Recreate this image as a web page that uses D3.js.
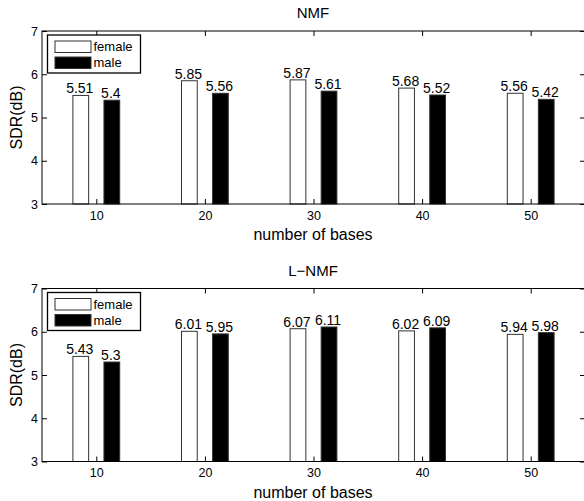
<!DOCTYPE html>
<html>
<head>
<meta charset="utf-8">
<script src="https://cdn.jsdelivr.net/npm/d3@7"></script>
<style>
  body { margin: 0; background: #fff; }
  svg { display: block; font-family: "Liberation Sans", Arial, Helvetica, sans-serif; }
  .axis text { font-size: 12.5px; fill: #000; }
  .axis line { stroke: #000; }
  .axis path { display: none; }
</style>
</head>
<body>
<div class="chart"></div>
<script>
var width = 584,
  height = 501;

// chart data
var bases = [10, 20, 30, 40, 50];
var nmfFemale = [5.51, 5.85, 5.87, 5.68, 5.56];
var nmfMale = [5.4, 5.56, 5.61, 5.52, 5.42];
var lnmfFemale = [5.43, 6.01, 6.07, 6.02, 5.94];
var lnmfMale = [5.3, 5.95, 6.11, 6.09, 5.98];
var yTicks = [3, 4, 5, 6, 7];
var seriesNames = ["female", "male"];
var panelTitles = ["NMF", "L\u2212NMF"];

var svg = d3.select(".chart").append("svg")
  .attr("width", width)
  .attr("height", height);

var x = d3.scaleLinear().domain([5, 55]).range([42, 585]);
var barOffset = 1.43,
  barWidth = x(1.45) - x(0);

drawPanel(31, 204, panelTitles[0], nmfFemale, nmfMale);
drawPanel(288.5, 461.5, panelTitles[1], lnmfFemale, lnmfMale);

function drawPanel(top, bottom, title, female, male) {
  var y = d3.scaleLinear().domain([3, 7]).range([bottom, top]);
  var g = svg.append("g");

  var series = [
    { vals: female, off: -barOffset, fill: "#fff" },
    { vals: male, off: barOffset, fill: "#000" }
  ];

  series.forEach(function(s) {
    g.selectAll(null)
      .data(s.vals)
      .enter().append("rect")
      .attr("x", function(d, i) { return x(bases[i] + s.off) - barWidth / 2; })
      .attr("y", function(d) { return y(d); })
      .attr("width", barWidth)
      .attr("height", function(d) { return y(3) - y(d); })
      .attr("fill", s.fill)
      .attr("stroke", "#333")
      .attr("stroke-width", 1);

    g.selectAll(null)
      .data(s.vals)
      .enter().append("text")
      .attr("x", function(d, i) { return x(bases[i] + s.off) - 1; })
      .attr("y", function(d) { return y(d) - 2; })
      .attr("text-anchor", "middle")
      .attr("font-size", "14px")
      .text(function(d) { return d; });
  });

  // axes, ticks pointing inward like matlab
  g.append("g").attr("class", "axis")
    .attr("transform", "translate(0," + bottom + ")")
    .call(d3.axisBottom(x).tickValues(bases).tickSize(-5).tickPadding(7));
  g.append("g").attr("class", "axis")
    .attr("transform", "translate(0," + top + ")")
    .call(d3.axisTop(x).tickValues(bases).tickSize(-5).tickFormat(""));
  g.append("g").attr("class", "axis")
    .attr("transform", "translate(" + x(5) + ",0)")
    .call(d3.axisLeft(y).tickValues(yTicks).tickSize(-5).tickPadding(4).tickFormat(d3.format("d")));
  g.append("g").attr("class", "axis")
    .attr("transform", "translate(" + x(55) + ",0)")
    .call(d3.axisRight(y).tickValues(yTicks).tickSize(-5).tickFormat(""));

  g.append("rect")
    .attr("x", x(5))
    .attr("y", top)
    .attr("width", x(55) - x(5))
    .attr("height", bottom - top)
    .attr("fill", "none")
    .attr("stroke", "#000");

  g.append("text")
    .attr("x", 313)
    .attr("y", top - 13)
    .attr("text-anchor", "middle")
    .attr("font-size", "15px")
    .text(title);

  g.append("text")
    .attr("x", 313)
    .attr("y", bottom + 36)
    .attr("text-anchor", "middle")
    .attr("font-size", "16px")
    .text("number of bases");

  g.append("text")
    .attr("transform", "translate(22," + ((top + bottom) / 2) + ") rotate(-90)")
    .attr("text-anchor", "middle")
    .attr("font-size", "16px")
    .text("SDR(dB)");

  // legend
  var lg = g.append("g").attr("transform", "translate(47.5," + (top + 4) + ")");
  lg.append("rect")
    .attr("width", 93).attr("height", 38)
    .attr("fill", "#fff").attr("stroke", "#000").attr("stroke-width", 1.3);
  seriesNames.forEach(function(name, i) {
    lg.append("rect")
      .attr("x", 7.5).attr("y", 6 + i * 16)
      .attr("width", 36).attr("height", 11.5)
      .attr("fill", series[i].fill).attr("stroke", "#333");
    lg.append("text")
      .attr("x", 46).attr("y", 16 + i * 16)
      .attr("font-size", "13px")
      .text(name);
  });
}
</script>
</body>
</html>
